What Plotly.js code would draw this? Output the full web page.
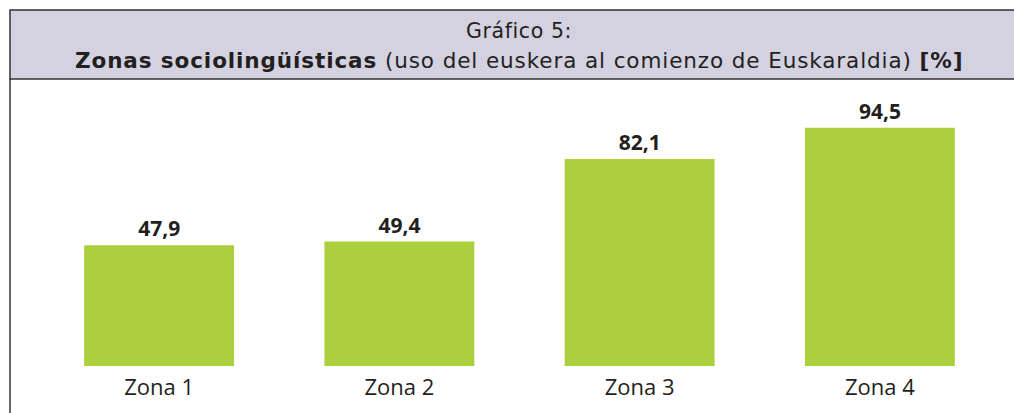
<!DOCTYPE html>
<html>
<head>
<meta charset="utf-8">
<script src="https://cdn.plot.ly/plotly-3.0.1.min.js"></script>
<style>html,body{margin:0;padding:0;background:#fff;}#chart{width:1014px;height:413px;}</style>
</head>
<body>
<div id="chart"></div>
<script>
const categories = ['Zona 1', 'Zona 2', 'Zona 3', 'Zona 4'];
const values = [47.9, 49.4, 82.1, 94.5];
const titleLine1 = 'Gráfico 5:';
const titleLine2 = '<b>Zonas sociolingüísticas</b> (uso del euskera al comienzo de Euskaraldia) <b>[%]</b>';

const W = 1014, H = 413;
const M = {l: 39, r: 14, t: 114, b: 47};
const pw = W - M.l - M.r, ph = H - M.t - M.b;
const px = x => (x - M.l) / pw;
const py = y => (H - M.b - y) / ph;

const textColor = '#231f20';
const titleFont = 'DejaVu Sans';
const trace = {
  type: 'bar',
  x: categories,
  y: values,
  marker: {color: '#accf3d', line: {width: 0}},
  texttemplate: '<b>%{y:.1f}</b>',
  textposition: 'outside',
  textfont: {family: 'Open Sans', size: 21, color: textColor},
  cliponaxis: false,
  hoverinfo: 'none'
};

const layout = {
  width: W, height: H,
  margin: M,
  separators: ',.',
  paper_bgcolor: '#ffffff',
  plot_bgcolor: '#ffffff',
  bargap: 0.376,
  showlegend: false,
  font: {family: 'Open Sans', color: textColor},
  xaxis: {
    type: 'category',
    range: [-0.5, 3.5],
    showgrid: false, zeroline: false, showline: false, ticks: '',
    tickfont: {family: 'Open Sans', size: 22, color: textColor},
    ticklabelstandoff: 6,
    fixedrange: true
  },
  yaxis: {
    range: [0, 100],
    visible: false,
    fixedrange: true
  },
  annotations: [
    {xref: 'paper', yref: 'paper', x: px(519), y: py(31), xanchor: 'center', yanchor: 'middle',
     text: '<span style="letter-spacing:0.6px">' + titleLine1 + '</span>', showarrow: false,
     font: {family: titleFont, size: 20.5, color: textColor}},
    {xref: 'paper', yref: 'paper', x: px(518.5), y: py(60), xanchor: 'center', yanchor: 'middle',
     text: '<span style="letter-spacing:0.9px">' + titleLine2 + '</span>', showarrow: false,
     font: {family: titleFont, size: 21.5, color: textColor}}
  ],
  shapes: [
    {type: 'rect', xref: 'paper', yref: 'paper', layer: 'below',
     x0: px(10), x1: px(1030), y0: py(79), y1: py(10),
     fillcolor: '#d4d2e0', line: {color: '#333333', width: 1.5}},
    {type: 'line', xref: 'paper', yref: 'paper',
     x0: px(10), x1: px(10), y0: py(79), y1: py(420),
     line: {color: '#333333', width: 1.5}}
  ]
};

Plotly.newPlot('chart', [trace], layout, {staticPlot: true, displayModeBar: false});
</script>
</body>
</html>
